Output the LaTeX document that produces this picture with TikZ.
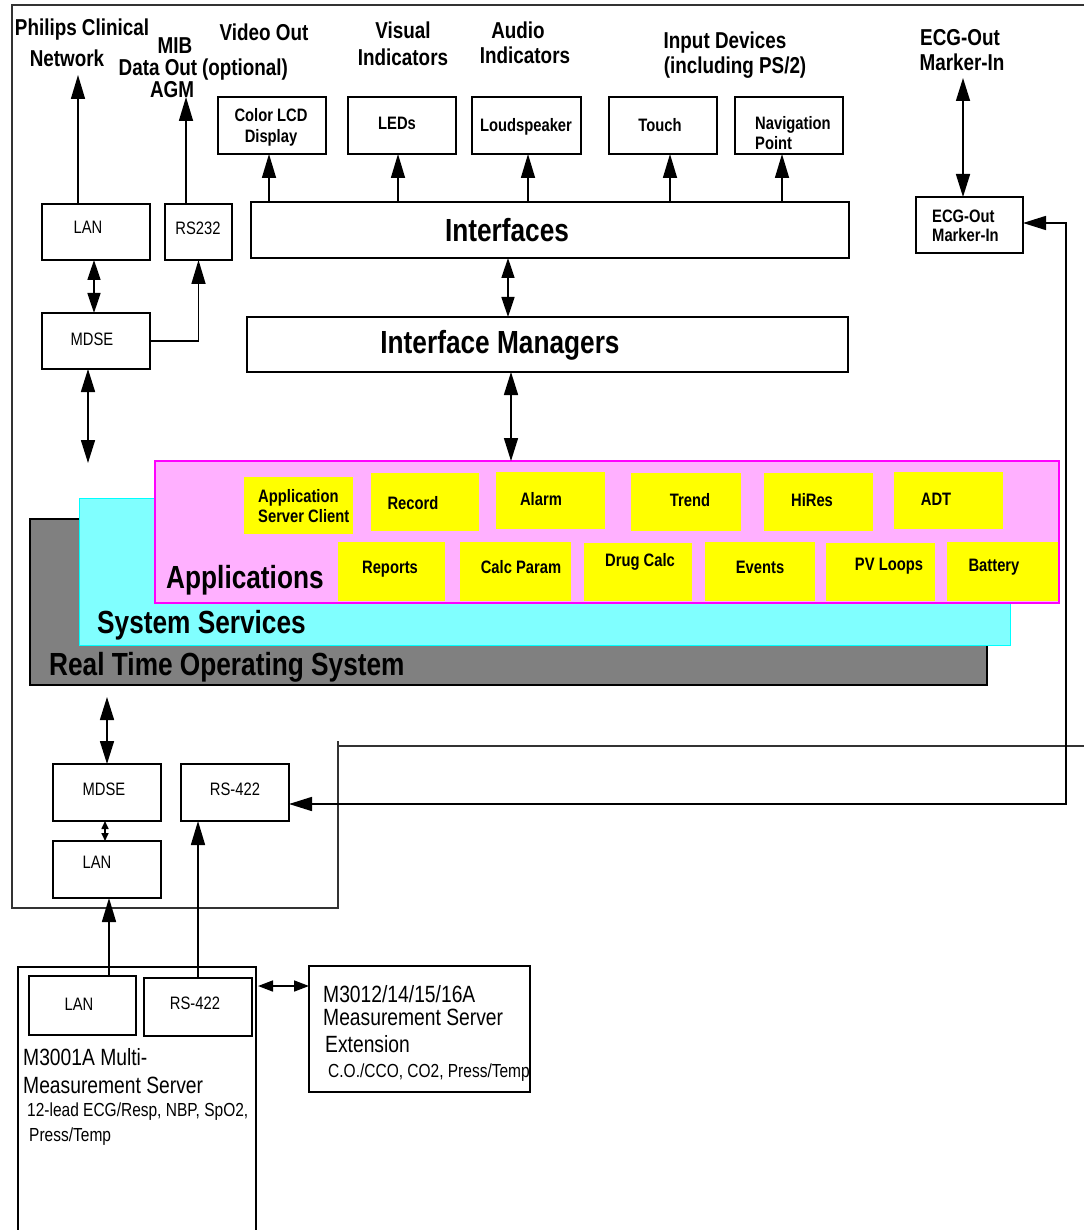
\documentclass[tikz,border=0pt]{standalone}
\usepackage{fontspec}
\setmainfont{Liberation Sans}
\newfontfamily\nf[FakeStretch=0.82]{Liberation Sans}
\usetikzlibrary{arrows.meta}
\definecolor{appyellow}{HTML}{FFFF00}
\definecolor{apppink}{HTML}{FFB0FF}
\definecolor{appmag}{HTML}{FF00FF}
\definecolor{svcyan}{HTML}{80FFFF}
\definecolor{svcyanb}{HTML}{00FFFF}
\definecolor{rtgray}{HTML}{808080}
\newcommand{\place}[6]{\node[#1, minimum width={(#5-#3)*1pt}, minimum height={(#6-#4)*1pt}] (#2) at ({(#3+#5)/2},{(#4+#6)/2}) {};}
\tikzset{
  bx/.style={draw, line width=1.6pt, inner sep=0pt, outer sep=0pt},
  yb/.style={fill=appyellow, inner sep=0pt, outer sep=0pt},
  layer/.style={inner sep=0pt, outer sep=0pt},
  arr/.style={line width=1.6pt, -{Triangle[length=24pt,width=14pt]}},
  dbl/.style={line width=1.6pt, {Triangle[length=23pt,width=14pt]}-{Triangle[length=23pt,width=14pt]}},
  dblt/.style={line width=1.6pt, {Triangle[length=20pt,width=13pt]}-{Triangle[length=20pt,width=13pt]}},
  dbls/.style={line width=1.6pt, {Triangle[length=8pt,width=7pt]}-{Triangle[length=8pt,width=7pt]}},
  dblm/.style={line width=1.6pt, {Triangle[length=15pt,width=11pt]}-{Triangle[length=15pt,width=11pt]}},
  frame/.style={line width=1.5pt, black!80},
  ttl/.style={font=\nf\bfseries\fontsize{23}{25}\selectfont, inner sep=0pt, text height=16.5pt, text depth=0pt},
  lbl/.style={font=\nf\bfseries\fontsize{18}{20}\selectfont, inner sep=0pt, text height=13pt, text depth=0pt},
  reg/.style={font=\nf\fontsize{18}{20}\selectfont, inner sep=0pt, text height=13pt, text depth=0pt},
  regs/.style={font=\nf\fontsize{18.9}{21}\selectfont, inner sep=0pt, text height=13.5pt, text depth=0pt},
  regl/.style={font=\nf\fontsize{23.5}{25}\selectfont, inner sep=0pt, text height=16.8pt, text depth=0pt},
  big/.style={font=\nf\bfseries\fontsize{32}{34}\selectfont, inner sep=0pt, text height=23pt, text depth=0pt},
}
\begin{document}
\begin{tikzpicture}[x=1pt,y=-1pt]
\useasboundingbox (0,0) rectangle (1084,1230);
% ---------- frame ----------
\draw[frame] (1084,5) -- (12,5) -- (12,908) -- (338,908) -- (338,741);
\draw[frame] (338,746) -- (1084,746);
% ---------- layers ----------
\place{layer, fill=rtgray, draw=black, line width=1.5pt}{rtos}{30}{519}{987}{685}
\place{layer, fill=svcyan, draw=svcyanb, line width=1pt}{sysv}{79}{498}{1010}{645}
\place{layer, fill=apppink, draw=appmag, line width=1.5pt}{apps}{155}{461}{1059}{603}
\node[big, anchor=west] (tapps) at (166,577) {Applications};
\node[big, anchor=west] (tsysv) at (97,622) {System Services};
\node[big, anchor=west] (trtos) at (49,664) {Real Time Operating System};
% yellow application boxes
\place{yb}{asc}{244}{477}{353}{534}
\place{yb}{rec}{371}{473}{479}{531}
\place{yb}{alm}{496}{472}{605}{529}
\place{yb}{trd}{631}{473}{741}{531}
\place{yb}{hir}{764}{473}{873}{531}
\place{yb}{adt}{894}{472}{1003}{529}
\place{yb}{rep}{338}{542}{445}{601}
\place{yb}{cpm}{460}{542}{571}{601}
\place{yb}{drg}{584}{543}{692}{601}
\place{yb}{evt}{705}{542}{815}{601}
\place{yb}{pvl}{826}{543}{935}{601}
\place{yb}{bat}{947}{542}{1058}{601}
\node[lbl, anchor=west] (tasc1) at (258,496) {Application};
\node[lbl, anchor=west] (tasc2) at (258,516) {Server Client};
\node[lbl] (trec) at (413,503) {Record};
\node[lbl] (talm) at (541,499) {Alarm};
\node[lbl] (ttrd) at (690,500) {Trend};
\node[lbl] (thir) at (812,500) {HiRes};
\node[lbl] (tadt) at (936,499) {ADT};
\node[lbl] (trep) at (390,567) {Reports};
\node[lbl] (tcpm) at (521,567) {Calc Param};
\node[lbl] (tdrg) at (640,560) {Drug Calc};
\node[lbl] (tevt) at (760,567) {Events};
\node[lbl] (tpvl) at (889,564) {PV Loops};
\node[lbl] (tbat) at (994,565) {Battery};
% ---------- top titles ----------
\node[ttl] (tpc1) at (82,27) {Philips Clinical};
\node[ttl] (tpc2) at (67,58) {Network};
\node[ttl] (tmib1) at (175,45) {MIB};
\node[ttl] (tmib2) at (158,67) {Data Out};
\node[ttl] (tvid2) at (245,67) {(optional)};
\node[ttl] (tmib3) at (172,89) {AGM};
\node[ttl] (tvid1) at (264,32) {Video Out};
\node[ttl] (tvis1) at (403,30) {Visual};
\node[ttl] (tvis2) at (403,57) {Indicators};
\node[ttl] (taud1) at (518,30) {Audio};
\node[ttl] (taud2) at (525,55) {Indicators};
\node[ttl] (tinp1) at (725,40) {Input Devices};
\node[ttl] (tinp2) at (735,65) {(including PS/2)};
\node[ttl] (tecg1) at (960,37) {ECG-Out};
\node[ttl] (tecg2) at (962,62) {Marker-In};
% ---------- boxes ----------
\place{bx}{lanA}{42}{204}{150}{260}
\place{bx}{rs232}{165}{204}{232}{260}
\place{bx}{lcd}{218}{97}{326}{154}
\place{bx}{leds}{348}{97}{456}{154}
\place{bx}{spk}{472}{97}{581}{154}
\place{bx}{touch}{609}{97}{717}{154}
\place{bx}{nav}{735}{97}{843}{154}
\place{bx}{iface}{251}{202}{849}{258}
\place{bx}{mdseA}{42}{313}{150}{369}
\place{bx}{imgr}{247}{317}{848}{372}
\place{bx}{ecg}{916}{197}{1023}{253}
\place{bx}{mdseB}{53}{764}{161}{821}
\place{bx}{rsb}{181}{764}{289}{821}
\place{bx}{lanB}{53}{841}{161}{898}
\place{bx, fill=white}{m3001}{18}{967}{256}{1240}
\place{bx}{lanC}{29}{976}{136}{1035}
\place{bx}{rsc}{144}{978}{252}{1036}
\place{bx}{m3012}{309}{966}{530}{1092}
% box texts
\node[lbl] (tlcd1) at (271,115) {Color LCD};
\node[lbl] (tlcd2) at (271,136) {Display};
\node[lbl] (tleds) at (397,123) {LEDs};
\node[lbl] (tspk) at (526,125) {Loudspeaker};
\node[lbl] (ttouch) at (660,125) {Touch};
\node[lbl, anchor=west] (tnav1) at (755,123) {Navigation};
\node[lbl, anchor=west] (tnav2) at (755,143) {Point};
\node[lbl, anchor=west] (tecgb1) at (932,216) {ECG-Out};
\node[lbl, anchor=west] (tecgb2) at (932,235) {Marker-In};
\node[big] (tiface) at (507,230) {Interfaces};
\node[big] (timgr) at (500,342) {Interface Managers};
\node[reg] (tlanA) at (88,227) {LAN};
\node[reg] (trs232) at (198,228) {RS232};
\node[reg] (tmdseA) at (92,339) {MDSE};
\node[reg] (tmdseB) at (104,789) {MDSE};
\node[reg] (trsb) at (235,789) {RS-422};
\node[reg] (tlanB) at (97,862) {LAN};
\node[reg] (tlanC) at (79,1004) {LAN};
\node[reg] (trsc) at (195,1003) {RS-422};
\node[regl, anchor=west] (tm1a) at (23,1057) {M3001A Multi-};
\node[regl, anchor=west] (tm1b) at (23,1085) {Measurement Server};
\node[regs, anchor=west] (tm1c) at (27,1110) {12-lead ECG/Resp, NBP, SpO2,};
\node[regs, anchor=west] (tm1d) at (29,1135) {Press/Temp};
\node[regl, anchor=west] (tm2a) at (323,994) {M3012/14/15/16A};
\node[regl, anchor=west] (tm2b) at (323,1017) {Measurement Server};
\node[regl, anchor=west] (tm2c) at (325,1044) {Extension};
\node[regs, anchor=west] (tm2d) at (328,1071) {C.O./CCO, CO2, Press/Temp};
% ---------- coordinates ----------
\coordinate (pcn) at (78,75);
\coordinate (agm) at (186,97);
\coordinate (xa) at (94,0);
\coordinate (mdn) at (88,463);
\coordinate (x269) at (269,0);
\coordinate (x398) at (398,0);
\coordinate (x528) at (528,0);
\coordinate (x670) at (670,0);
\coordinate (x782) at (782,0);
\coordinate (x508) at (508,0);
\coordinate (x511) at (511,0);
\coordinate (ecgt) at (963,78);
\coordinate (c1) at (1066,223);
\coordinate (c2) at (1066,804);
\coordinate (rtn) at (107,697);
\coordinate (x105) at (105,0);
\coordinate (x109) at (109,0);
\coordinate (h1) at (258,986);
% ---------- connectors ----------
\draw[arr] (lanA.north -| pcn) -- (pcn);
\draw[arr] (rs232.north -| agm) -- (agm);
\draw[dblt] (lanA.south -| xa) -- (mdseA.north -| xa);
\draw[arr] (mdseA.east) -| (rs232.south);
\draw[dbl] (mdseA.south -| mdn) -- (mdn);
\draw[arr] (iface.north -| x269) -- (lcd.south -| x269);
\draw[arr] (iface.north -| x398) -- (leds.south -| x398);
\draw[arr] (iface.north -| x528) -- (spk.south -| x528);
\draw[arr] (iface.north -| x670) -- (touch.south -| x670);
\draw[arr] (iface.north -| x782) -- (nav.south -| x782);
\draw[dblt] (iface.south -| x508) -- (imgr.north -| x508);
\draw[dbl] (imgr.south -| x511) -- (apps.north -| x511);
\draw[dbl] (ecgt) -- (ecg.north -| ecgt);
\draw[dbl] (rsb.east |- c2) -- (c2) -- (c1) -- (ecg.east |- c1);
\draw[dbl] (rtn) -- (mdseB.north -| rtn);
\draw[dbls] (mdseB.south -| x105) -- (lanB.north -| x105);
\draw[arr] (lanC.north -| x109) -- (lanB.south -| x109);
\draw[arr] (rsc.north) -- (rsc.north |- rsb.south);
\draw[dblm] (h1) -- (m3012.west |- h1);
\end{tikzpicture}
\end{document}
